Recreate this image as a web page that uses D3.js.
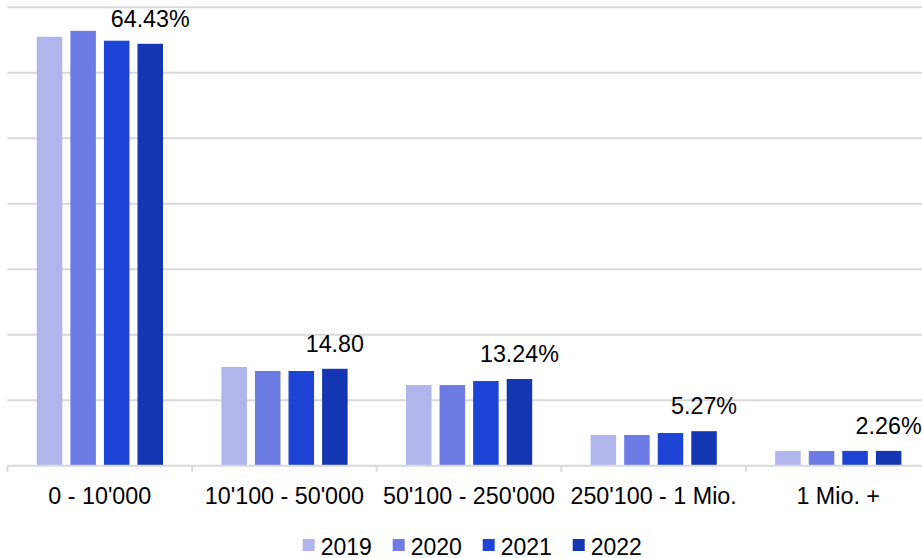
<!DOCTYPE html>
<html>
<head>
<meta charset="utf-8">
<script src="https://cdn.jsdelivr.net/npm/d3@7"></script>
<style>
  html, body { margin: 0; padding: 0; background: #fff; }
  svg { display: block; font-family: "Liberation Sans", Arial, sans-serif; }
</style>
</head>
<body>
<svg id="chart" width="922" height="558"></svg>
<script>
const categories = ["0 - 10'000", "10'100 - 50'000", "50'100 - 250'000", "250'100 - 1 Mio.", "1 Mio. +"];
const years = ["2019", "2020", "2021", "2022"];
const values2019 = [65.5, 15.07, 12.32, 4.69, 2.24];
const values2020 = [66.4, 14.46, 12.32, 4.69, 2.24];
const values2021 = [64.9, 14.46, 12.93, 4.99, 2.26];
const values2022 = [64.43, 14.80, 13.24, 5.27, 2.26];
const labels2022 = ["64.43%", "14.80", "13.24%", "5.27%", "2.26%"];
const yTicks = [0, 10, 20, 30, 40, 50, 60, 70];
const colors = ["#b0b5ec", "#6e7be5", "#1d44d4", "#1536b3"];

const series = [values2019, values2020, values2021, values2022];

const svg = d3.select("#chart");
const x0 = d3.scaleBand().domain(categories).range([7.5, 930.5]).paddingInner(0).paddingOuter(0);
const x1 = d3.scaleBand().domain(years).range([29.3, 155.5]).paddingInner(0.24).paddingOuter(0);
const y = d3.scaleLinear().domain([0, 70]).range([465.7, 7.3]);
const color = d3.scaleOrdinal().domain(years).range(colors);

// gridlines
svg.append("g").selectAll("line").data(yTicks.filter(t => t > 0)).join("line")
  .attr("x1", 7.5).attr("x2", 922)
  .attr("y1", d => y(d)).attr("y2", d => y(d))
  .attr("stroke", "#d9d9d9").attr("stroke-width", 2);

// bars
const groups = svg.append("g").selectAll("g").data(categories).join("g")
  .attr("transform", c => `translate(${x0(c)},0)`);
groups.selectAll("rect").data((c, i) => years.map((yr, j) => ({ yr, v: series[j][i] }))).join("rect")
  .attr("x", d => x1(d.yr))
  .attr("width", x1.bandwidth())
  .attr("y", d => y(d.v))
  .attr("height", d => y(0) - y(d.v))
  .attr("fill", d => color(d.yr));

// baseline axis with ticks
const axisG = svg.append("g").attr("transform", `translate(0,${y(0)})`);
axisG.append("line").attr("x1", 7.5).attr("x2", 922).attr("y1", 0).attr("y2", 0)
  .attr("stroke", "#d9d9d9").attr("stroke-width", 2);
axisG.selectAll("line.tk").data(categories.map(c => x0(c)).concat([x0.range()[1]])).join("line")
  .attr("class", "tk")
  .attr("x1", d => d).attr("x2", d => d).attr("y1", 0).attr("y2", 6)
  .attr("stroke", "#d9d9d9").attr("stroke-width", 2);
axisG.selectAll("text.cat").data(categories).join("text")
  .attr("class", "cat")
  .attr("x", c => x0(c) + x0.bandwidth() / 2)
  .attr("y", 38.3)
  .attr("text-anchor", "middle")
  .attr("font-size", 23.3)
  .attr("fill", "#000")
  .text(d => d);

// value labels over 2022 bars
svg.append("g").selectAll("text").data(categories).join("text")
  .attr("x", (c, i) => x0(c) + x1("2022") + x1.bandwidth() / 2)
  .attr("y", (c, i) => y(values2022[i]) - 16.8)
  .attr("text-anchor", "middle")
  .attr("font-size", 23.3)
  .attr("fill", "#000")
  .text((c, i) => labels2022[i]);

// legend
const legend = svg.append("g").selectAll("g").data(years).join("g")
  .attr("transform", (d, i) => `translate(${302.7 + i * 90},539)`);
legend.append("rect").attr("width", 12).attr("height", 12).attr("fill", d => color(d));
legend.append("text").attr("x", 18).attr("y", 15.5).attr("font-size", 23).attr("fill", "#000").text(d => d);
</script>
</body>
</html>
